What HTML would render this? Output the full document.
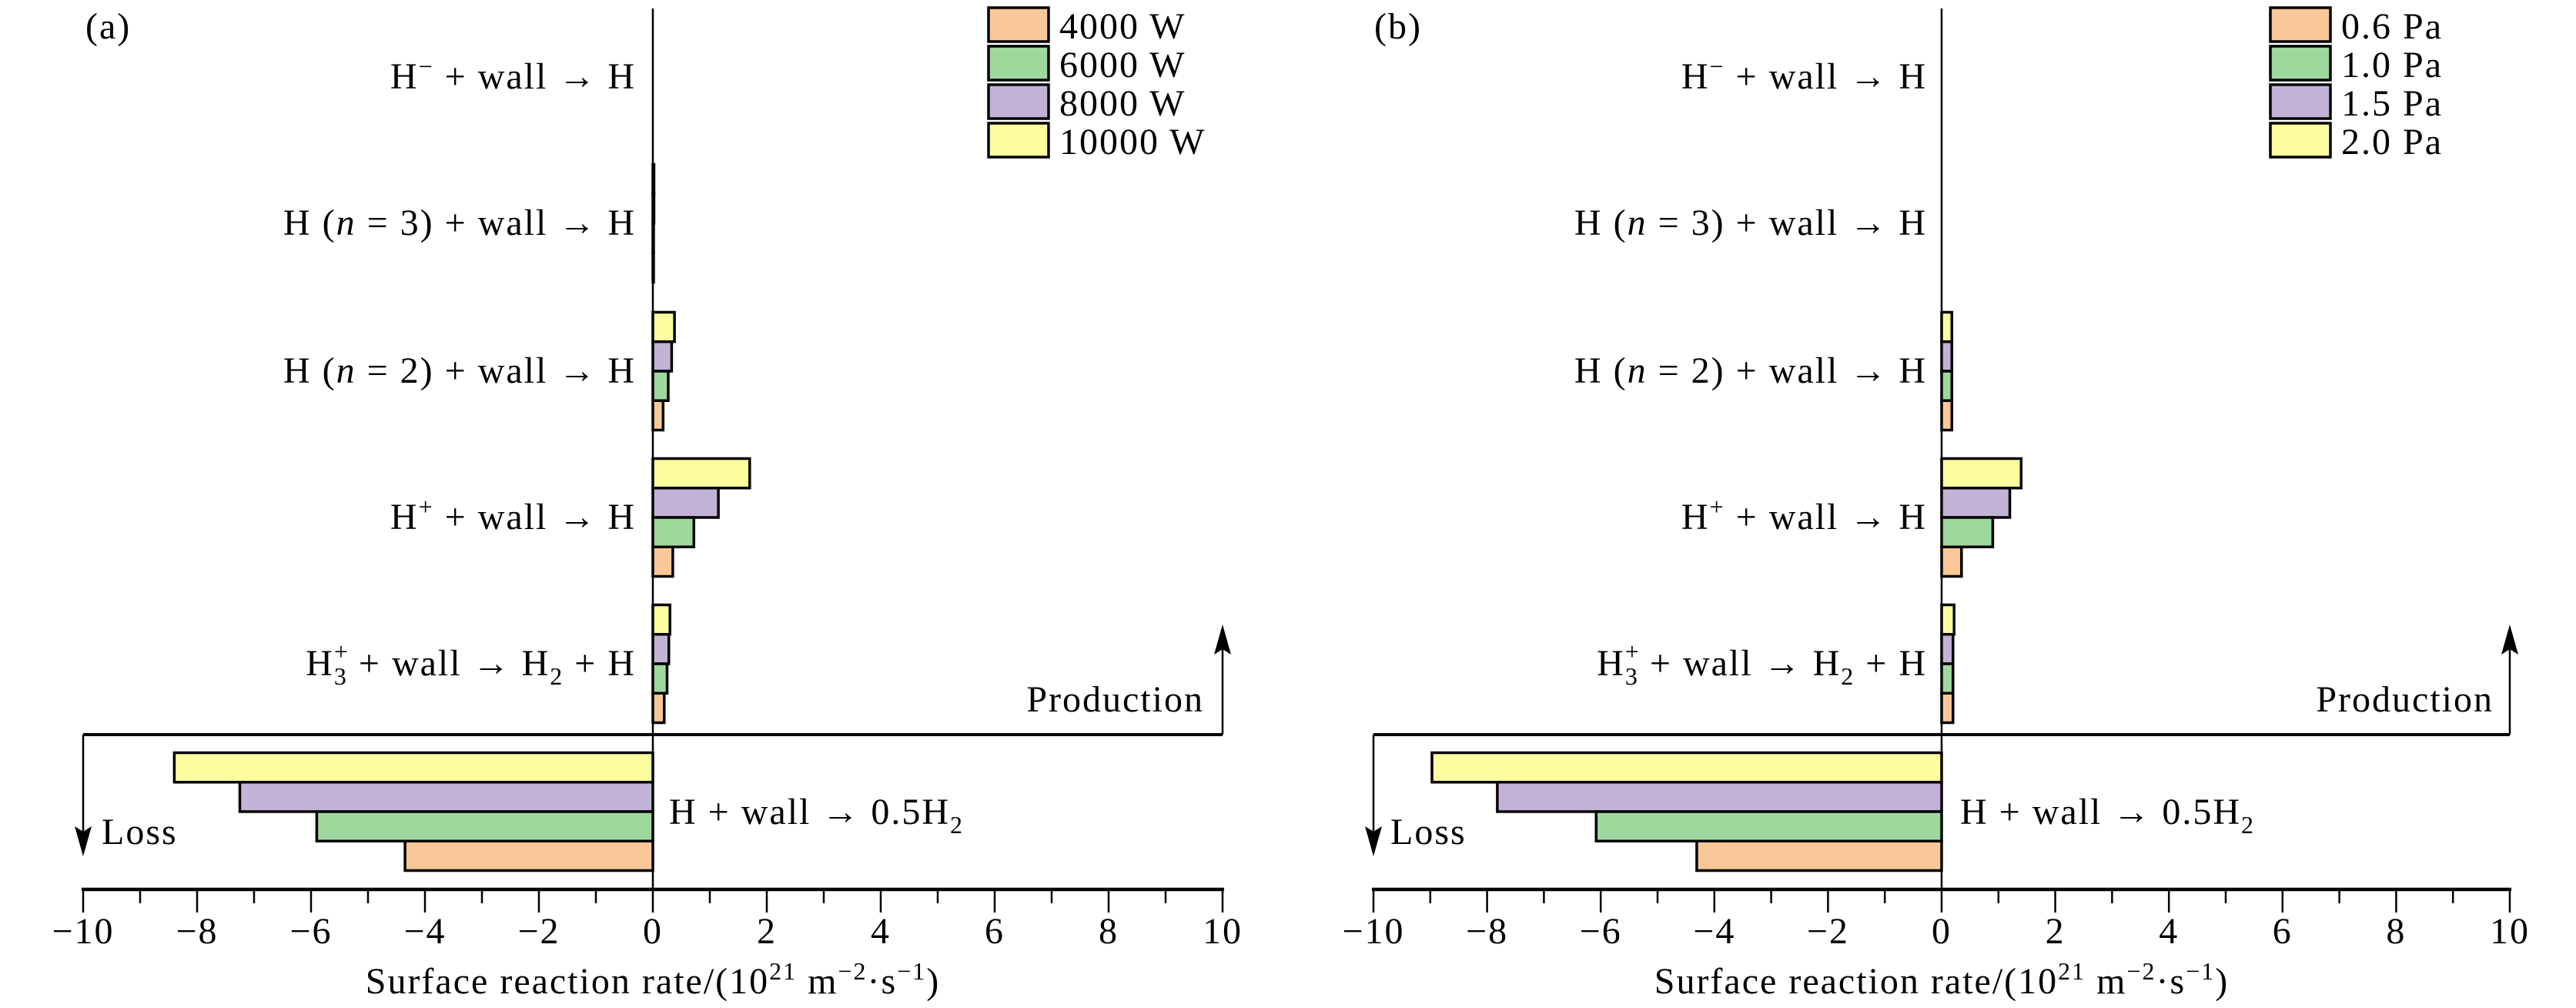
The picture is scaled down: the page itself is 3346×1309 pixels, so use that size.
<!DOCTYPE html>
<html><head><meta charset="utf-8"><style>
html,body{margin:0;padding:0;background:#fff}
svg{display:block}
text{font-family:"Liberation Serif",serif;font-size:48px;fill:#000;letter-spacing:2px}
</style></head><body>
<svg id="s" width="3346" height="1309" viewBox="0 0 3346 1309" xmlns="http://www.w3.org/2000/svg">
<g id="bars"></g>
<text x="111" y="50">(a)</text>
<text x="826" y="115" text-anchor="end">H<tspan dy="-18" font-size="32">−</tspan><tspan dy="18"> + wall → H</tspan></text>
<text x="826" y="305" text-anchor="end">H (<tspan font-style="italic">n</tspan> = 3) + wall → H</text>
<text x="826" y="497" text-anchor="end">H (<tspan font-style="italic">n</tspan> = 2) + wall → H</text>
<text x="826" y="687" text-anchor="end">H<tspan dy="-18" font-size="32">+</tspan><tspan dy="18"> + wall → H</tspan></text>
<text x="826" y="877" text-anchor="end">H<tspan dy="-20" font-size="32">+</tspan><tspan dy="32" dx="-20" font-size="32">3</tspan><tspan dy="-12"> + wall → H</tspan><tspan dy="12" font-size="32">2</tspan><tspan dy="-12"> + H</tspan></text>
<text x="869" y="1070">H + wall → 0.5H<tspan dy="12" font-size="32">2</tspan></text>
<text x="1564" y="924" text-anchor="end">Production</text>
<text x="132" y="1096">Loss</text>
<text x="848" y="1290" text-anchor="middle">Surface reaction rate/(10<tspan dy="-18" font-size="32">21</tspan><tspan dy="18"> m</tspan><tspan dy="-18" font-size="32">−2</tspan><tspan dy="18">·s</tspan><tspan dy="-18" font-size="32">−1</tspan><tspan dy="18">)</tspan></text>
<text x="1376" y="50">4000 W</text>
<text x="1376" y="100">6000 W</text>
<text x="1376" y="150">8000 W</text>
<text x="1376" y="200">10000 W</text>
<text x="1785" y="50">(b)</text>
<text x="2503" y="115" text-anchor="end">H<tspan dy="-18" font-size="32">−</tspan><tspan dy="18"> + wall → H</tspan></text>
<text x="2503" y="305" text-anchor="end">H (<tspan font-style="italic">n</tspan> = 3) + wall → H</text>
<text x="2503" y="497" text-anchor="end">H (<tspan font-style="italic">n</tspan> = 2) + wall → H</text>
<text x="2503" y="687" text-anchor="end">H<tspan dy="-18" font-size="32">+</tspan><tspan dy="18"> + wall → H</tspan></text>
<text x="2503" y="877" text-anchor="end">H<tspan dy="-20" font-size="32">+</tspan><tspan dy="32" dx="-20" font-size="32">3</tspan><tspan dy="-12"> + wall → H</tspan><tspan dy="12" font-size="32">2</tspan><tspan dy="-12"> + H</tspan></text>
<text x="2546" y="1070">H + wall → 0.5H<tspan dy="12" font-size="32">2</tspan></text>
<text x="3239" y="924" text-anchor="end">Production</text>
<text x="1806" y="1096">Loss</text>
<text x="2522" y="1290" text-anchor="middle">Surface reaction rate/(10<tspan dy="-18" font-size="32">21</tspan><tspan dy="18"> m</tspan><tspan dy="-18" font-size="32">−2</tspan><tspan dy="18">·s</tspan><tspan dy="-18" font-size="32">−1</tspan><tspan dy="18">)</tspan></text>
<text x="3041" y="50">0.6 Pa</text>
<text x="3041" y="100">1.0 Pa</text>
<text x="3041" y="150">1.5 Pa</text>
<text x="3041" y="200">2.0 Pa</text>
<g id="ax"></g>
</svg>
<script>
var NS="http://www.w3.org/2000/svg";
function el(p,t,a){var e=document.createElementNS(NS,t);for(var k in a)e.setAttribute(k,a[k]);document.getElementById(p).appendChild(e);return e;}
var cols=["#fdfd9f","#c2b3d6","#9fd89d","#fac898"];
var centers=[1054,862,672,482,290,100];
function panel(x0,u,vals,lx){
  for(var c=0;c<6;c++){var cy=centers[c];for(var i=0;i<4;i++){var v=vals[c][i];if(v==0)continue;
    var top=cy-76.5+i*38.25;var xa=x0,xb=x0+u*v;if(xb<xa){var t=xa;xa=xb;xb=t;}
    el("bars","rect",{x:xa,y:top,width:Math.max(xb-xa,1),height:38.25,fill:cols[i],stroke:"#000","stroke-width":3.5});}}
  var X=function(v){return x0+u*v};
  el("ax","line",{x1:x0,y1:11,x2:x0,y2:1155,stroke:"#000","stroke-width":2.5});
  el("ax","line",{x1:X(-10)-2,y1:1155,x2:X(10)+2,y2:1155,stroke:"#000","stroke-width":4.5});
  for(var k=-10;k<=10;k++){el("ax","line",{x1:X(k),y1:1155,x2:X(k),y2:(k%2==0?1185:1173),stroke:"#000","stroke-width":2.5});}
  for(var k=-10;k<=10;k+=2){var t=el("ax","text",{x:X(k),y:1225,"text-anchor":"middle"});t.textContent=(k<0?"−"+(-k):""+k);}
  el("ax","line",{x1:X(-10),y1:954,x2:X(10),y2:954,stroke:"#000","stroke-width":4});
  el("ax","line",{x1:X(10),y1:954,x2:X(10),y2:840,stroke:"#000","stroke-width":2.5});
  el("ax","polygon",{points:(X(10)-11)+",850 "+X(10)+",811 "+(X(10)+11)+",850 "+X(10)+",843",fill:"#000"});
  el("ax","line",{x1:X(-10),y1:954,x2:X(-10),y2:1080,stroke:"#000","stroke-width":2.5});
  el("ax","polygon",{points:(X(-10)-11)+",1073 "+X(-10)+",1112 "+(X(-10)+11)+",1073 "+X(-10)+",1080",fill:"#000"});
  var lc=["#fac898","#9fd89d","#c2b3d6","#fdfd9f"];
  for(var i=0;i<4;i++)el("ax","rect",{x:lx,y:10+i*50,width:78,height:44,fill:lc[i],stroke:"#000","stroke-width":3.5});
}
panel(848,74,[[-8.4,-7.25,-5.9,-4.35],[0.3,0.28,0.25,0.2],[1.7,1.15,0.72,0.35],[0.38,0.33,0.27,0.18],[0.02,0.02,0.01,0.01],[0,0,0,0]],1284);
panel(2522,73.8,[[-8.97,-7.82,-6.08,-4.31],[0.22,0.2,0.2,0.2],[1.4,1.2,0.9,0.35],[0.18,0.18,0.18,0.18],[0,0,0,0],[0,0,0,0]],2949);
</script>
</body></html>
